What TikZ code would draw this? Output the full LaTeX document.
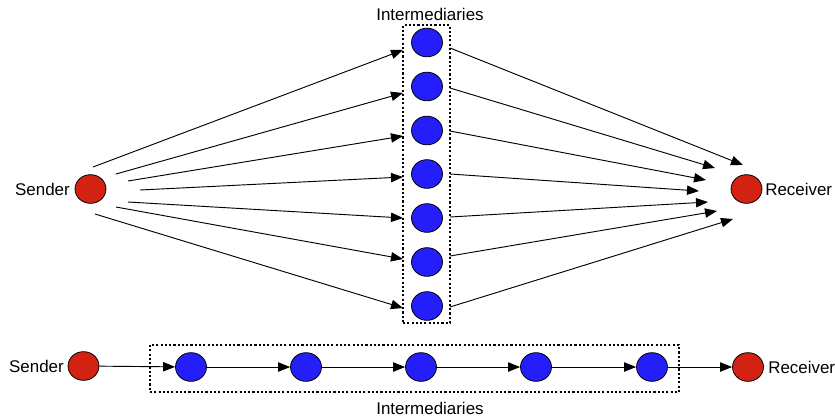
\documentclass[tikz,border=0pt]{standalone}
\usepackage{fontspec}
\setmainfont{Liberation Sans}
\usetikzlibrary{shapes.geometric,arrows.meta}
\definecolor{nodered}{RGB}{212,34,18}
\definecolor{nodeblue}{RGB}{36,30,250}
\tikzset{
  dot/.style={ellipse,draw=black,line width=0.6pt,inner sep=0pt,minimum width=23.2pt,minimum height=21.5pt},
  rdot/.style={dot,fill=nodered},
  bdot/.style={dot,fill=nodeblue},
  lbl/.style={font=\fontsize{12.7pt}{14pt}\selectfont,inner sep=0pt},
  arr/.style={line width=0.7pt,-{Triangle[length=9pt,width=7pt]}},
  grp/.style={draw,line width=0.8pt,dash pattern=on 1.6pt off 1.6pt},
}
\begin{document}
\begin{tikzpicture}[x=0.75pt,y=-0.75pt]
\useasboundingbox (0,0) rectangle (835,419);
% ---- top diagram ----
\node[rdot] (S) at (90.5,189) {};
\node[lbl,anchor=east] (SL) at (70,189) {Sender};
\node[rdot] (R) at (746.5,189) {};
\node[lbl,anchor=west] (RL) at (765,189) {Receiver};
\foreach \i/\y in {1/42.5,2/86.5,3/130.5,4/174,5/218,6/262,7/306}{
  \node[bdot] (I\i) at (427,\y) {};
}
\node[grp,minimum width=35.25pt,minimum height=223.5pt] (BOX) at (426.5,174) {};
\node[lbl] (IL) at (430,14) {Intermediaries};
% sender side start points and box-edge end points
\foreach \i/\sx/\sy/\ey in {1/93/167/50,2/116/174/93,3/128/181/136,4/140/190/177,5/128/202/218,6/116/207/259,7/95/214/308}{
  \coordinate (s\i) at (\sx,\sy);
  \coordinate (e\i) at (403,\ey);
  \draw[arr] (s\i) -- (e\i);
}
% receiver side
\foreach \i/\sy/\ex/\ey in {1/48/743/165,2/88/715/168,3/131/706/180,4/174/699/191,5/217/708/202,6/256/717/211,7/307/733/219}{
  \coordinate (r\i) at (450,\sy);
  \coordinate (t\i) at (\ex,\ey);
  \draw[arr] (r\i) -- (t\i);
}
% ---- bottom diagram ----
\node[rdot] (S2) at (83.5,366) {};
\node[lbl,anchor=east] (SL2) at (64,366) {Sender};
\foreach \i/\x in {1/191,2/306,3/421,4/536,5/652}{
  \node[bdot] (B\i) at (\x,367) {};
}
\node[rdot] (R2) at (748,367) {};
\node[lbl,anchor=west] (RL2) at (768,367) {Receiver};
\node[grp,minimum width=396.75pt,minimum height=35.25pt] (BOX2) at (414.5,368.5) {};
\node[lbl] (IL2) at (430,408) {Intermediaries};
\draw[arr] (S2) -- (B1);
\draw[arr] (B1) -- (B2);
\draw[arr] (B2) -- (B3);
\draw[arr] (B3) -- (B4);
\draw[arr] (B4) -- (B5);
\draw[arr] (B5) -- (R2);
\end{tikzpicture}
\end{document}
